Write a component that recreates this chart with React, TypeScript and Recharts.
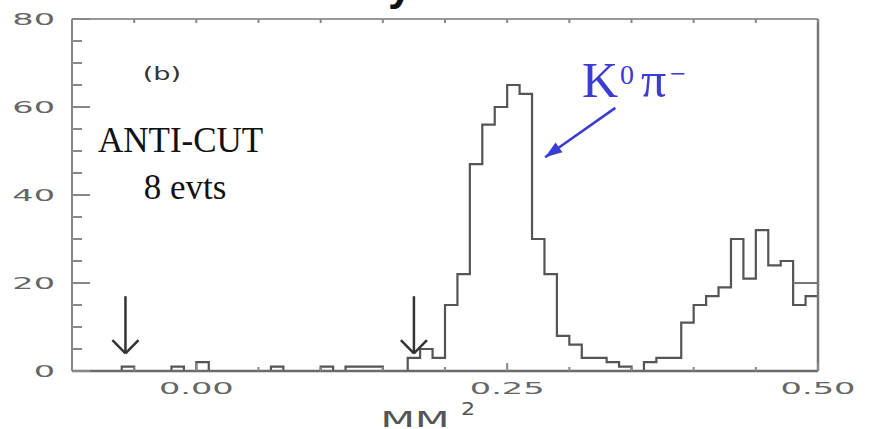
import { LineChart, Line, XAxis, YAxis, ReferenceLine, ReferenceDot } from 'recharts';

const BIN_START = -0.1;
const BIN_WIDTH = 0.01;

// entries per 0.01 GeV² bin, from -0.10 up to 0.50
const counts = [
  0, 0, 0, 0, 1, 0, 0, 0, 1, 0,
  2, 0, 0, 0, 0, 0, 1, 0, 0, 0,
  1, 0, 1, 1, 1, 0, 0, 3, 5, 3,
  15, 22, 47, 56, 60, 65, 63, 30, 22, 8,
  6, 3, 3, 2, 1, 0, 2, 3, 3, 11,
  15, 17, 19, 30, 21, 32, 24, 25, 15, 17,
];

// second outline, only visible on the last two bins
const upperBins = [58, 59];
const upperCounts = [20, 20];

const xTicks = [-0.1, -0.05, 0, 0.05, 0.1, 0.15, 0.2, 0.25, 0.3, 0.35, 0.4, 0.45, 0.5];
const xLabels = [0, 0.25, 0.5];
const yTicks = [0, 5, 10, 15, 20, 25, 30, 35, 40, 45, 50, 55, 60, 65, 70, 75, 80];
const yLabels = [0, 20, 40, 60, 80];

// cut positions marked with arrows
const cutPositions = [-0.057, 0.175];
const peakArrowTail = { x: 0.337, y: 59.8 };
const peakArrowTip = { x: 0.2805, y: 48.6 };

const edge = (i: number) => Math.round((BIN_START + i * BIN_WIDTH) * 1000) / 1000;

type Row = { x: number; count: number; upper: number | null };
const rows: Row[] = counts.map((c, i) => ({ x: edge(i), count: c, upper: null }));
rows.push({ x: edge(counts.length), count: counts[counts.length - 1], upper: null });
upperBins.forEach((b, k) => {
  rows[b].upper = upperCounts[k];
});
rows[rows.length - 1].upper = upperCounts[upperCounts.length - 1];

const TICK_FONT = '"DejaVu Sans", sans-serif';
const AXIS = '#888';
const isLabel = (list: number[], v: number) => list.some((l) => Math.abs(l - v) < 1e-6);

function BottomTick({ x, y, payload }: any) {
  const major = isLabel(xLabels, payload.value);
  return (
    <g>
      <line x1={x} x2={x} y1={y} y2={y - (major ? 8 : 4)} stroke={AXIS} strokeWidth={2} />
      {major && (
        <text
          transform={`translate(${x},${y + 22.5}) scale(2.1,1)`}
          textAnchor="middle"
          fontFamily={TICK_FONT}
          fontSize={16}
          fill="#666"
        >
          {payload.value.toFixed(2)}
        </text>
      )}
    </g>
  );
}

function TopTick({ x, y }: any) {
  return <line x1={x} x2={x} y1={y} y2={y + 4} stroke={AXIS} strokeWidth={2} />;
}

function LeftTick({ x, y, payload }: any) {
  const major = isLabel(yLabels, payload.value);
  return (
    <g>
      <line x1={x} x2={x + (major ? 18 : 10)} y1={y} y2={y} stroke={AXIS} strokeWidth={2} />
      {major && (
        <text
          transform={`translate(${x - 17},${y + 5.5}) scale(2.1,1)`}
          textAnchor="end"
          fontFamily={TICK_FONT}
          fontSize={16}
          fill="#666"
        >
          {payload.value}
        </text>
      )}
    </g>
  );
}

function RightTick({ x, y, payload }: any) {
  const major = isLabel(yLabels, payload.value);
  return <line x1={x} x2={x - (major ? 20 : 10)} y1={y} y2={y} stroke={AXIS} strokeWidth={2} />;
}

function ArrowHead({ cx, cy }: any) {
  // filled triangle pointing along the tail -> tip direction (screen space)
  const dx = -70;
  const dy = 49;
  const len = Math.hypot(dx, dy);
  const ux = dx / len;
  const uy = dy / len;
  const L = 17;
  const W = 6;
  const bx = cx - L * ux;
  const by = cy - L * uy;
  const pts = [
    [cx, cy],
    [bx + W * uy, by - W * ux],
    [bx - W * uy, by + W * ux],
  ]
    .map((p) => p.join(','))
    .join(' ');
  return <polygon points={pts} fill="#3b3bd6" />;
}

export default function App() {
  return (
    <div style={{ position: 'absolute', left: 0, top: 0, width: 870, height: 429, background: '#fff', overflow: 'hidden' }}>
      <LineChart width={870} height={429} data={rows} margin={{ top: 18, right: 51, bottom: 57, left: 71 }}>
        <XAxis
          dataKey="x"
          type="number"
          domain={[-0.1, 0.5]}
          ticks={xTicks}
          interval={0}
          height={1}
          tickSize={0}
          tickMargin={0}
          tickLine={false}
          axisLine={{ stroke: '#6a6a6a', strokeWidth: 2.5 }}
          tick={BottomTick}
        />
        <XAxis
          xAxisId="top"
          orientation="top"
          dataKey="x"
          type="number"
          domain={[-0.1, 0.5]}
          ticks={xTicks}
          interval={0}
          height={1}
          tickSize={0}
          tickMargin={0}
          tickLine={false}
          axisLine={{ stroke: '#999', strokeWidth: 2 }}
          tick={TopTick}
        />
        <YAxis
          type="number"
          domain={[0, 80]}
          ticks={yTicks}
          interval={0}
          width={1}
          tickSize={0}
          tickMargin={0}
          tickLine={false}
          axisLine={{ stroke: '#888', strokeWidth: 2 }}
          tick={LeftTick}
        />
        <YAxis
          yAxisId="right"
          orientation="right"
          type="number"
          domain={[0, 80]}
          ticks={yTicks}
          interval={0}
          width={1}
          tickSize={0}
          tickMargin={0}
          tickLine={false}
          axisLine={{ stroke: '#777', strokeWidth: 2.5 }}
          tick={RightTick}
        />
        <Line
          type="stepAfter"
          dataKey="count"
          stroke="#555"
          strokeWidth={2.2}
          dot={false}
          isAnimationActive={false}
        />
        <Line
          type="stepAfter"
          dataKey="upper"
          stroke="#777"
          strokeWidth={2}
          dot={false}
          connectNulls={false}
          isAnimationActive={false}
        />
        {cutPositions.map((cx) => (
          <g key={cx}>
            <ReferenceLine segment={[{ x: cx, y: 17 }, { x: cx, y: 4 }]} stroke="#333" strokeWidth={2.5} />
            <ReferenceLine segment={[{ x: cx - 0.0105, y: 7 }, { x: cx, y: 4 }]} stroke="#333" strokeWidth={2.5} />
            <ReferenceLine segment={[{ x: cx + 0.0105, y: 7 }, { x: cx, y: 4 }]} stroke="#333" strokeWidth={2.5} />
          </g>
        ))}
        <ReferenceLine segment={[peakArrowTail, peakArrowTip]} stroke="#3b3bd6" strokeWidth={2.5} />
        <ReferenceDot x={peakArrowTip.x} y={peakArrowTip.y} r={0} shape={ArrowHead} />
      </LineChart>
      <svg width={870} height={429} style={{ position: 'absolute', left: 0, top: 0, pointerEvents: 'none' }}>
        <text x={388} y={0} fontFamily='"Liberation Sans", Arial, sans-serif' fontWeight="bold" fontSize={44} fill="#111">
          y
        </text>
        <text
          transform="translate(162,80) scale(1.6,1)"
          textAnchor="middle"
          fontFamily={TICK_FONT}
          fontSize={17}
          fill="#333"
        >
          (b)
        </text>
        <text x={98} y={152} fontFamily='"Liberation Serif", serif' fontSize={35} fill="#111">
          ANTI-CUT
        </text>
        <text x={185} y={199} textAnchor="middle" fontFamily='"Liberation Serif", serif' fontSize={35} fill="#111">
          8 evts
        </text>
        <g fontFamily='"Liberation Serif", serif' fill="#3b3bd6">
          <text x={582} y={97} fontSize={50}>K</text>
          <text x={620} y={84} fontSize={28}>0</text>
          <text x={641} y={97} fontSize={50}>π</text>
          <text x={670} y={83} fontSize={28}>−</text>
        </g>
        <text
          transform="translate(415,427) scale(1.9,1)"
          textAnchor="middle"
          fontFamily={TICK_FONT}
          fontSize={21}
          fill="#555"
        >
          MM
        </text>
        <text
          transform="translate(461,415) scale(1.3,1)"
          fontFamily={TICK_FONT}
          fontSize={17}
          fill="#555"
        >
          2
        </text>
      </svg>
    </div>
  );
}
